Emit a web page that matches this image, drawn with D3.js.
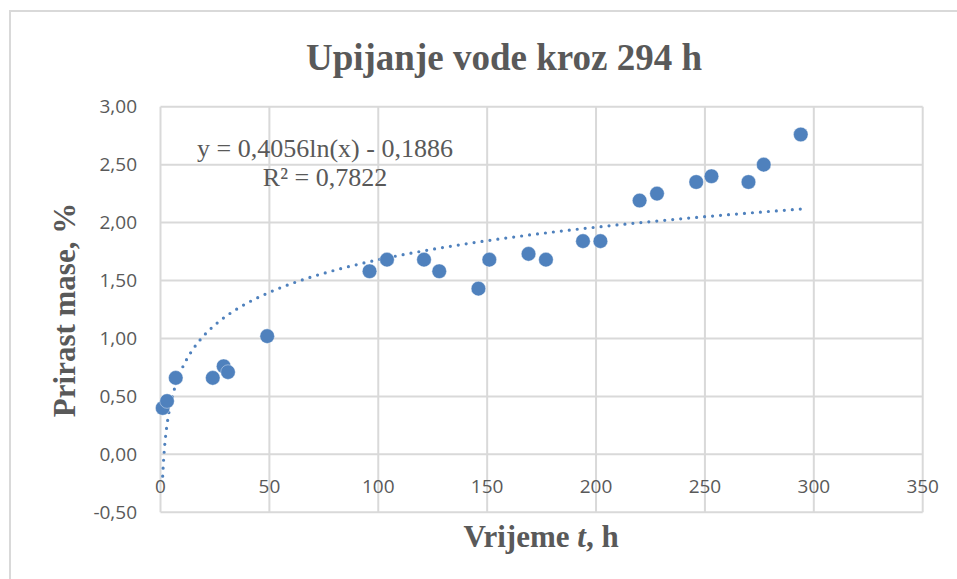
<!DOCTYPE html>
<html>
<head>
<meta charset="utf-8">
<script src="https://cdn.jsdelivr.net/npm/d3@7"></script>
<style>
  html, body { margin: 0; padding: 0; background: #fff; }
  svg { display: block; }
</style>
</head>
<body>
<svg id="chart" width="957" height="579"></svg>
<script>
// Measured water uptake over time
const hours = [1, 3, 7, 24, 29, 31, 49, 96, 104, 121, 128, 146, 151, 169, 177, 194, 202, 220, 228, 246, 253, 270, 277, 294];
const massGain = [0.40, 0.46, 0.66, 0.66, 0.76, 0.71, 1.02, 1.58, 1.68, 1.68, 1.58, 1.43, 1.68, 1.73, 1.68, 1.84, 1.84, 2.19, 2.25, 2.35, 2.40, 2.35, 2.50, 2.76];

// Logarithmic trendline coefficients
const trendA = 0.4056;
const trendB = -0.1886;
const rSquared = 0.7822;

const xTicks = [0, 50, 100, 150, 200, 250, 300, 350];
const yTicks = [-0.5, 0, 0.5, 1, 1.5, 2, 2.5, 3];

const title = "Upijanje vode kroz 294 h";
const yTitle = "Prirast mase, %";

const svg = d3.select("#chart");
const grey = "#595959";
const gridCol = "#d9d9d9";
const blue = "#4f81bd";

const x = d3.scaleLinear().domain([0, 350]).range([160.5, 922.7]);
const y = d3.scaleLinear().domain([-0.5, 3]).range([512.3, 106.7]);

// Decimal comma, plain hyphen for negatives
const fmt = v => (v < 0 ? "-" : "") + Math.abs(v).toFixed(2).replace(".", ",");

// Chart area border
svg.append("rect")
  .attr("x", 10).attr("y", 11)
  .attr("width", 960).attr("height", 580)
  .attr("fill", "none").attr("stroke", gridCol).attr("stroke-width", 2);

// Gridlines
const grid = svg.append("g");
grid.selectAll("line.h").data(yTicks).join("line")
  .attr("x1", x(0)).attr("x2", x(350))
  .attr("y1", d => y(d)).attr("y2", d => y(d))
  .attr("stroke", gridCol).attr("stroke-width", 2);
grid.selectAll("line.v").data(xTicks).join("line")
  .attr("x1", d => x(d)).attr("x2", d => x(d))
  .attr("y1", y(3)).attr("y2", y(-0.5))
  .attr("stroke", gridCol).attr("stroke-width", 2);

// Y tick labels
svg.append("g").selectAll("text").data(yTicks).join("text")
  .attr("x", 137).attr("y", d => y(d) + 6.5)
  .attr("text-anchor", "end")
  .attr("font-family", "'Open Sans', sans-serif")
  .attr("font-size", 19).attr("fill", grey)
  .text(fmt);

// X tick labels
svg.append("g").selectAll("text").data(xTicks).join("text")
  .attr("x", d => x(d)).attr("y", 493)
  .attr("text-anchor", "middle")
  .attr("font-family", "'Open Sans', sans-serif")
  .attr("font-size", 19).attr("fill", grey)
  .text(d => d);

// Trendline
const trendX = d3.range(1, 294.01, 0.25);
svg.append("path")
  .datum(trendX)
  .attr("d", d3.line().x(t => x(t)).y(t => y(trendA * Math.log(t) + trendB)))
  .attr("fill", "none").attr("stroke", blue)
  .attr("stroke-width", 3.2).attr("stroke-linecap", "round")
  .attr("stroke-dasharray", "0 8");

// Data points
svg.append("g").selectAll("circle").data(hours).join("circle")
  .attr("cx", d => x(d)).attr("cy", (d, i) => y(massGain[i]))
  .attr("r", 7.3).attr("fill", blue)
  .attr("stroke", "#ffffff").attr("stroke-opacity", 0.5).attr("stroke-width", 0.8);

// Trendline equation
const eq = svg.append("text")
  .attr("x", 325).attr("text-anchor", "middle")
  .attr("font-family", "'Liberation Serif', 'Times New Roman', serif")
  .attr("font-size", 26).attr("fill", grey);
eq.append("tspan").attr("x", 325).attr("y", 157)
  .text(`y = ${String(trendA).replace(".", ",")}ln(x) - ${String(-trendB).replace(".", ",")}`);
eq.append("tspan").attr("x", 325).attr("y", 186)
  .text(`R² = ${String(rSquared).replace(".", ",")}`);

// Title
svg.append("text")
  .attr("x", 504).attr("y", 70)
  .attr("text-anchor", "middle")
  .attr("font-family", "'Liberation Serif', 'Times New Roman', serif")
  .attr("font-weight", "bold").attr("font-size", 37).attr("fill", grey)
  .text(title);

// Axis titles
svg.append("text")
  .attr("transform", `translate(75,${310}) rotate(-90)`)
  .attr("text-anchor", "middle")
  .attr("font-family", "'Liberation Serif', 'Times New Roman', serif")
  .attr("font-weight", "bold").attr("font-size", 31).attr("fill", grey)
  .text(yTitle);

const xt = svg.append("text")
  .attr("x", 541).attr("y", 547)
  .attr("text-anchor", "middle")
  .attr("font-family", "'Liberation Serif', 'Times New Roman', serif")
  .attr("font-weight", "bold").attr("font-size", 31).attr("fill", grey);
xt.append("tspan").text("Vrijeme ");
xt.append("tspan").attr("font-style", "italic").text("t");
xt.append("tspan").text(", h");
</script>
</body>
</html>
